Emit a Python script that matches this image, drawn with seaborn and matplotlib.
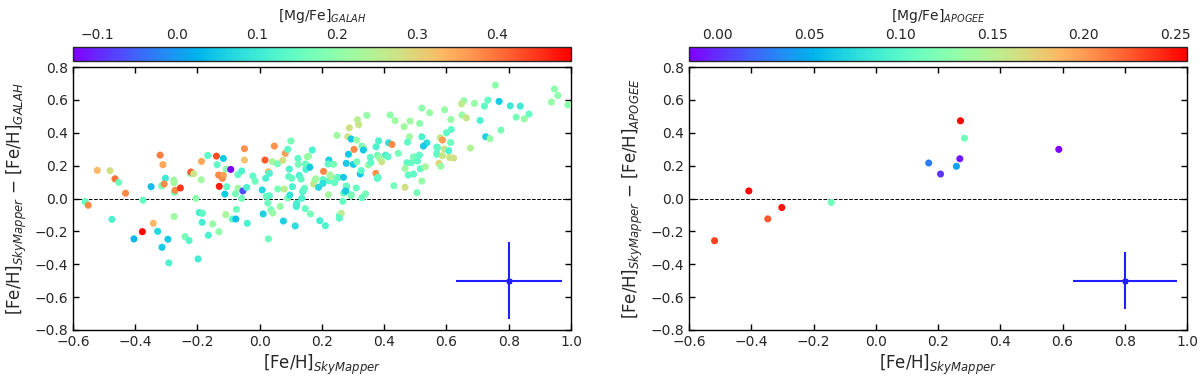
import numpy as np
import pandas as pd
import matplotlib
matplotlib.use("Agg")
import matplotlib.pyplot as plt
import seaborn as sns
from matplotlib.colors import Normalize
from matplotlib.cm import ScalarMappable
from matplotlib.ticker import FuncFormatter

# ---------------- data ----------------
galah_feh = [
    -0.561, -0.551, -0.522, -0.481, -0.465, -0.453, -0.431, -0.475, -0.404, -0.377,
    -0.375, -0.349, -0.342, -0.328, -0.320, -0.311, -0.314, -0.303, -0.315, -0.307,
    -0.295, -0.292, -0.276, -0.275, -0.274, -0.272, -0.275, -0.255, -0.240, -0.227,
    -0.223, -0.221, -0.212, -0.205, -0.198, -0.194, -0.184, -0.185, -0.187, -0.188,
    -0.167, -0.165, -0.151, -0.139, -0.137, -0.132, -0.130, -0.131, -0.120, -0.117,
    -0.117, -0.108, -0.112, -0.109, -0.106, -0.093, -0.088, -0.077, -0.078, -0.075,
    -0.070, -0.070, -0.058, -0.058, -0.054, -0.049, -0.049, -0.042, -0.040, -0.022,
    -0.015, 0.008, 0.011, 0.017, 0.019, 0.021, 0.026, 0.028, 0.031, 0.031,
    0.028, 0.036, 0.042, 0.041, 0.047, 0.057, 0.058, 0.066, 0.074, 0.076,
    0.079, 0.082, 0.090, 0.090, 0.095, 0.093, 0.097, 0.100, 0.103, 0.105,
    0.114, 0.118, 0.119, 0.117, 0.123, 0.124, 0.127, 0.133, 0.135, 0.138,
    0.144, 0.146, 0.147, 0.148, 0.153, 0.158, 0.161, 0.163, 0.169, 0.173,
    0.180, 0.189, 0.193,
    0.205, 0.211, 0.221, 0.222, 0.222, 0.220, 0.229, 0.237, 0.240, 0.248,
    0.251, 0.256, 0.262, 0.267, 0.269, 0.269, 0.274, 0.280, 0.283, 0.285,
    0.288, 0.294, 0.294, 0.301, 0.303, 0.521, 0.546, 0.419, 0.344, 0.314,
    0.318, 0.435, 0.483, 0.514, 0.464, 0.312, 0.481, 0.521, 0.382, 0.414,
    0.425, 0.475, 0.537, 0.526, 0.328, 0.335, 0.374, 0.333, 0.355, 0.378,
    0.404, 0.385, 0.392, 0.412, 0.445, 0.473, 0.487, 0.494, 0.513, 0.507,
    0.516, 0.532, 0.569, 0.571, 0.467, 0.477, 0.494, 0.521, 0.431, 0.467,
    0.505, 0.278, 0.323, 0.312, 0.326, 0.349, 0.357, 0.373, 0.378, 0.248,
    0.226, 0.203, 0.178, 0.203, 0.157, 0.141, 0.278, 0.276, 0.293, 0.310,
    0.328, 0.340, 0.380, 0.256,
    0.757, 0.947, 0.958, 0.937, 0.990, 0.769, 0.805, 0.837, 0.733, 0.722,
    0.690, 0.656, 0.648, 0.594, 0.650, 0.664, 0.614, 0.708, 0.824, 0.850,
    0.865, 0.615, 0.600, 0.775, 0.726, 0.740, 0.580, 0.587, 0.613, 0.569,
    0.593, 0.607, 0.569, 0.677, 0.587, 0.610, 0.623, 0.576, 0.582,
]
galah_dfeh = [
    -0.019, -0.041, 0.171, 0.169, 0.120, 0.098, 0.032, -0.127, -0.246, -0.202,
    -0.011, 0.072, -0.151, -0.200, 0.264, 0.206, -0.297, 0.123, 0.076, 0.088,
    -0.248, -0.392, 0.112, 0.096, 0.037, 0.050, -0.110, 0.064, -0.232, -0.256,
    0.153, 0.161, 0.151, 0.001, -0.368, -0.086, -0.090, -0.145, 0.226, 0.114,
    0.262, -0.224, -0.155, 0.258, 0.206, 0.143, 0.074, -0.202, 0.123, 0.141,
    0.244, 0.179, 0.027, -0.098, 0.072, 0.177, -0.125, -0.125, 0.029, -0.066,
    0.145, 0.062, 0.167, 0.001, 0.046, 0.234, 0.303, 0.068, -0.151, 0.137,
    0.105, 0.052, -0.094, 0.234, 0.123, 0.013, -0.027, 0.163, 0.153, 0.017,
    -0.246, -0.068, -0.088, 0.224, 0.319, 0.211, 0.058, -0.048, 0.232, -0.137,
    0.058, 0.275, 0.299, 0.003, 0.179, 0.133, 0.021, 0.350, 0.123, 0.072,
    -0.167, -0.050, -0.029, -0.040, 0.244, 0.208, 0.141, 0.118, 0.001, 0.042,
    0.062, -0.062, 0.210, 0.177, 0.254, 0.196, 0.190, -0.094, 0.295, 0.088,
    0.120, 0.068, -0.135,
    0.165, -0.165, 0.023, 0.108, 0.234, 0.210, 0.135, 0.208, 0.096, 0.384,
    0.129, -0.104, -0.090, -0.017, 0.129, 0.032, 0.042, 0.072, 0.376, 0.269,
    0.430, 0.362, 0.023, 0.208, 0.299, 0.550, 0.522, 0.508, 0.506, 0.479,
    0.449, 0.474, 0.471, 0.457, 0.437, 0.356, 0.376, 0.376, 0.351, 0.339,
    0.329, 0.343, 0.339, 0.319, 0.319, 0.305, 0.315, 0.295, 0.250, 0.264,
    0.264, 0.245, 0.224, 0.254, 0.275, 0.218, 0.218, 0.254, 0.264, 0.228,
    0.181, 0.193, 0.269, 0.309, 0.183, 0.143, 0.149, 0.106, 0.078, 0.068,
    0.036, 0.214, 0.149, 0.224, 0.170, 0.204, 0.218, 0.153, 0.123, 0.123,
    0.143, 0.115, 0.112, 0.092, 0.258, 0.052, 0.076, 0.046, 0.017, 0.064,
    0.005, 0.029, 0.129, -0.120,
    0.690, 0.666, 0.627, 0.587, 0.570, 0.591, 0.564, 0.562, 0.599, 0.562,
    0.579, 0.595, 0.576, 0.540, 0.508, 0.491, 0.481, 0.475, 0.495, 0.485,
    0.514, 0.420, 0.400, 0.416, 0.376, 0.364, 0.370, 0.356, 0.341, 0.313,
    0.301, 0.291, 0.275, 0.307, 0.260, 0.250, 0.246, 0.214, 0.196,
]
galah_mgfe = [
    0.15, 0.38, 0.33, 0.28, 0.40, 0.16, 0.38, 0.12, 0.03, 0.49,
    0.15, 0.04, 0.33, 0.07, 0.39, 0.35, 0.05, 0.10, 0.17, 0.38,
    0.05, 0.12, 0.22, 0.22, 0.17, 0.38, 0.22, 0.45, 0.17, 0.13,
    0.17, 0.42, 0.27, 0.20, 0.11, 0.11, 0.14, 0.11, 0.35, 0.22,
    0.14, 0.12, 0.21, 0.43, 0.14, 0.38, 0.47, 0.20, 0.38, 0.36,
    0.05, 0.20, 0.05, 0.23, 0.14, -0.13, 0.15, 0.04, 0.17, 0.16,
    0.14, 0.22, 0.12, 0.16, -0.07, 0.32, 0.37, 0.12, 0.12, 0.14,
    0.16, 0.07, 0.06, 0.42, 0.12, 0.15, 0.16, 0.33, 0.12, 0.14,
    0.16, 0.17, 0.21, 0.23, 0.37, 0.17, 0.17, 0.21, 0.28, 0.06,
    0.25, 0.36, 0.14, 0.17, 0.12, 0.14, 0.09, 0.17, 0.15, 0.12,
    0.08, 0.12, 0.12, 0.11, 0.14, 0.17, 0.12, 0.14, 0.12, 0.12,
    0.15, 0.15, 0.15, 0.12, 0.22, 0.18, 0.05, 0.17, 0.12, 0.27,
    0.22, 0.07, 0.11,
    0.38, 0.12, 0.22, 0.14, 0.06, 0.14, 0.26, 0.17, 0.15, 0.22,
    0.12, 0.13, 0.25, 0.15, 0.05, 0.17, 0.11, 0.17, 0.27, 0.05,
    0.28, 0.05, 0.15, 0.05, 0.38, 0.20, 0.21, 0.20, 0.21, 0.25,
    0.27, 0.22, 0.22, 0.20, 0.22, 0.21, 0.22, 0.12, 0.12, 0.08,
    0.38, 0.14, 0.08, 0.05, 0.18, 0.22, 0.12, 0.05, 0.14, 0.17,
    0.12, 0.21, 0.27, 0.14, 0.17, 0.14, 0.15, 0.17, 0.14, 0.14,
    0.14, 0.23, 0.14, 0.14, 0.22, 0.14, 0.14, 0.21, 0.17, 0.28,
    0.17, 0.05, 0.05, 0.17, 0.14, 0.21, 0.14, 0.37, 0.12, 0.15,
    0.22, 0.14, 0.22, 0.08, 0.21, 0.14, 0.15, 0.05, 0.17, 0.15,
    0.15, 0.17, 0.14, 0.14,
    0.20, 0.20, 0.20, 0.21, 0.20, 0.05, 0.10, 0.10, 0.15, 0.14,
    0.21, 0.21, 0.26, 0.21, 0.21, 0.27, 0.21, 0.12, 0.17, 0.21,
    0.15, 0.14, 0.14, 0.17, 0.06, 0.21, 0.26, 0.36, 0.16, 0.14,
    0.27, 0.12, 0.14, 0.24, 0.27, 0.27, 0.28, 0.30, 0.21,
]

apogee_feh = [-0.518, -0.408, -0.347, -0.302, -0.143, 0.170, 0.208, 0.259, 0.270, 0.272, 0.285, 0.588]
apogee_dfeh = [-0.257, 0.046, -0.124, -0.055, -0.024, 0.216, 0.149, 0.196, 0.242, 0.473, 0.367, 0.299]
apogee_mgfe = [0.235, 0.255, 0.225, 0.248, 0.112, 0.030, 0.003, 0.045, -0.008, 0.256, 0.112, -0.015]

galah_norm_limits = (-0.131, 0.493)
apogee_norm_limits = (-0.0155, 0.2565)
galah_cbar_ticks = [-0.1, 0.0, 0.1, 0.2, 0.3, 0.4]
apogee_cbar_ticks = [0.00, 0.05, 0.10, 0.15, 0.20, 0.25]

# typical uncertainties (error cross)
err_x, err_y = 0.8, -0.5
galah_err = (0.17, 0.235)
apogee_err = (0.167, 0.172)

x_ticks = [-0.6, -0.4, -0.2, 0.0, 0.2, 0.4, 0.6, 0.8, 1.0]
y_ticks = [-0.8, -0.6, -0.4, -0.2, 0.0, 0.2, 0.4, 0.6, 0.8]


def fmt(decimals):
    def f(v, pos):
        s = f"{v:.{decimals}f}"
        return s.replace("-", "\u2212")
    return FuncFormatter(f)


# ---------------- plotting ----------------
sns.set_style("ticks")
plt.rcParams["font.family"] = ["DejaVu Sans"]
plt.rcParams["mathtext.fontset"] = "dejavusans"

fig = plt.figure(figsize=(12, 3.81), dpi=100)

panels = [
    dict(rect=[0.0608, 0.134, 0.415, 0.690], crect=[0.0608, 0.840, 0.415, 0.037],
         x=galah_feh, y=galah_dfeh, c=galah_mgfe, lim=galah_norm_limits,
         cticks=galah_cbar_ticks, cdec=1, err=galah_err,
         clabel=r"[Mg/Fe]$_{GALAH}$",
         ylabel=r"[Fe/H]$_{SkyMapper}$ $-$ [Fe/H]$_{GALAH}$"),
    dict(rect=[0.5742, 0.134, 0.415, 0.690], crect=[0.5742, 0.840, 0.415, 0.037],
         x=apogee_feh, y=apogee_dfeh, c=apogee_mgfe, lim=apogee_norm_limits,
         cticks=apogee_cbar_ticks, cdec=2, err=apogee_err,
         clabel=r"[Mg/Fe]$_{APOGEE}$",
         ylabel=r"[Fe/H]$_{SkyMapper}$ $-$ [Fe/H]$_{APOGEE}$"),
]

for p in panels:
    ax = fig.add_axes(p["rect"])
    df = pd.DataFrame({"feh": p["x"], "dfeh": p["y"], "mg": p["c"]})
    norm = Normalize(vmin=p["lim"][0], vmax=p["lim"][1])
    sns.scatterplot(data=df, x="feh", y="dfeh", hue="mg", palette="rainbow",
                    hue_norm=norm, s=26, linewidth=0, legend=False, ax=ax, zorder=3)
    ax.axhline(0.0, color="black", ls="--", lw=0.7, zorder=1)
    ax.errorbar([err_x], [err_y], xerr=[p["err"][0]], yerr=[p["err"][1]],
                color="#1f1fff", lw=1.5, marker="s", ms=3, capsize=0, zorder=4)
    ax.set_xlim(-0.6, 1.0)
    ax.set_ylim(-0.8, 0.8)
    ax.set_xticks(x_ticks)
    ax.set_yticks(y_ticks)
    ax.xaxis.set_major_formatter(fmt(1))
    ax.yaxis.set_major_formatter(fmt(1))
    ax.tick_params(direction="in", top=True, right=True, length=4, width=1,
                   labelsize=10, color="black")
    for s in ax.spines.values():
        s.set_color("black")
        s.set_linewidth(1.0)
    ax.set_xlabel(r"[Fe/H]$_{SkyMapper}$", fontsize=12, labelpad=3)
    ax.set_ylabel(p["ylabel"], fontsize=12, labelpad=4)

    cax = fig.add_axes(p["crect"])
    sm = ScalarMappable(norm=norm, cmap="rainbow")
    cb = fig.colorbar(sm, cax=cax, orientation="horizontal", ticks=p["cticks"])
    cax.xaxis.set_major_formatter(fmt(p["cdec"]))
    cax.xaxis.set_ticks_position("top")
    cax.xaxis.set_label_position("top")
    cax.tick_params(direction="in", length=4, width=1, labelsize=10, color="black")
    cb.outline.set_linewidth(1.0)
    cb.set_label(p["clabel"], fontsize=10, labelpad=6)

fig.savefig("out.png", dpi=100)
